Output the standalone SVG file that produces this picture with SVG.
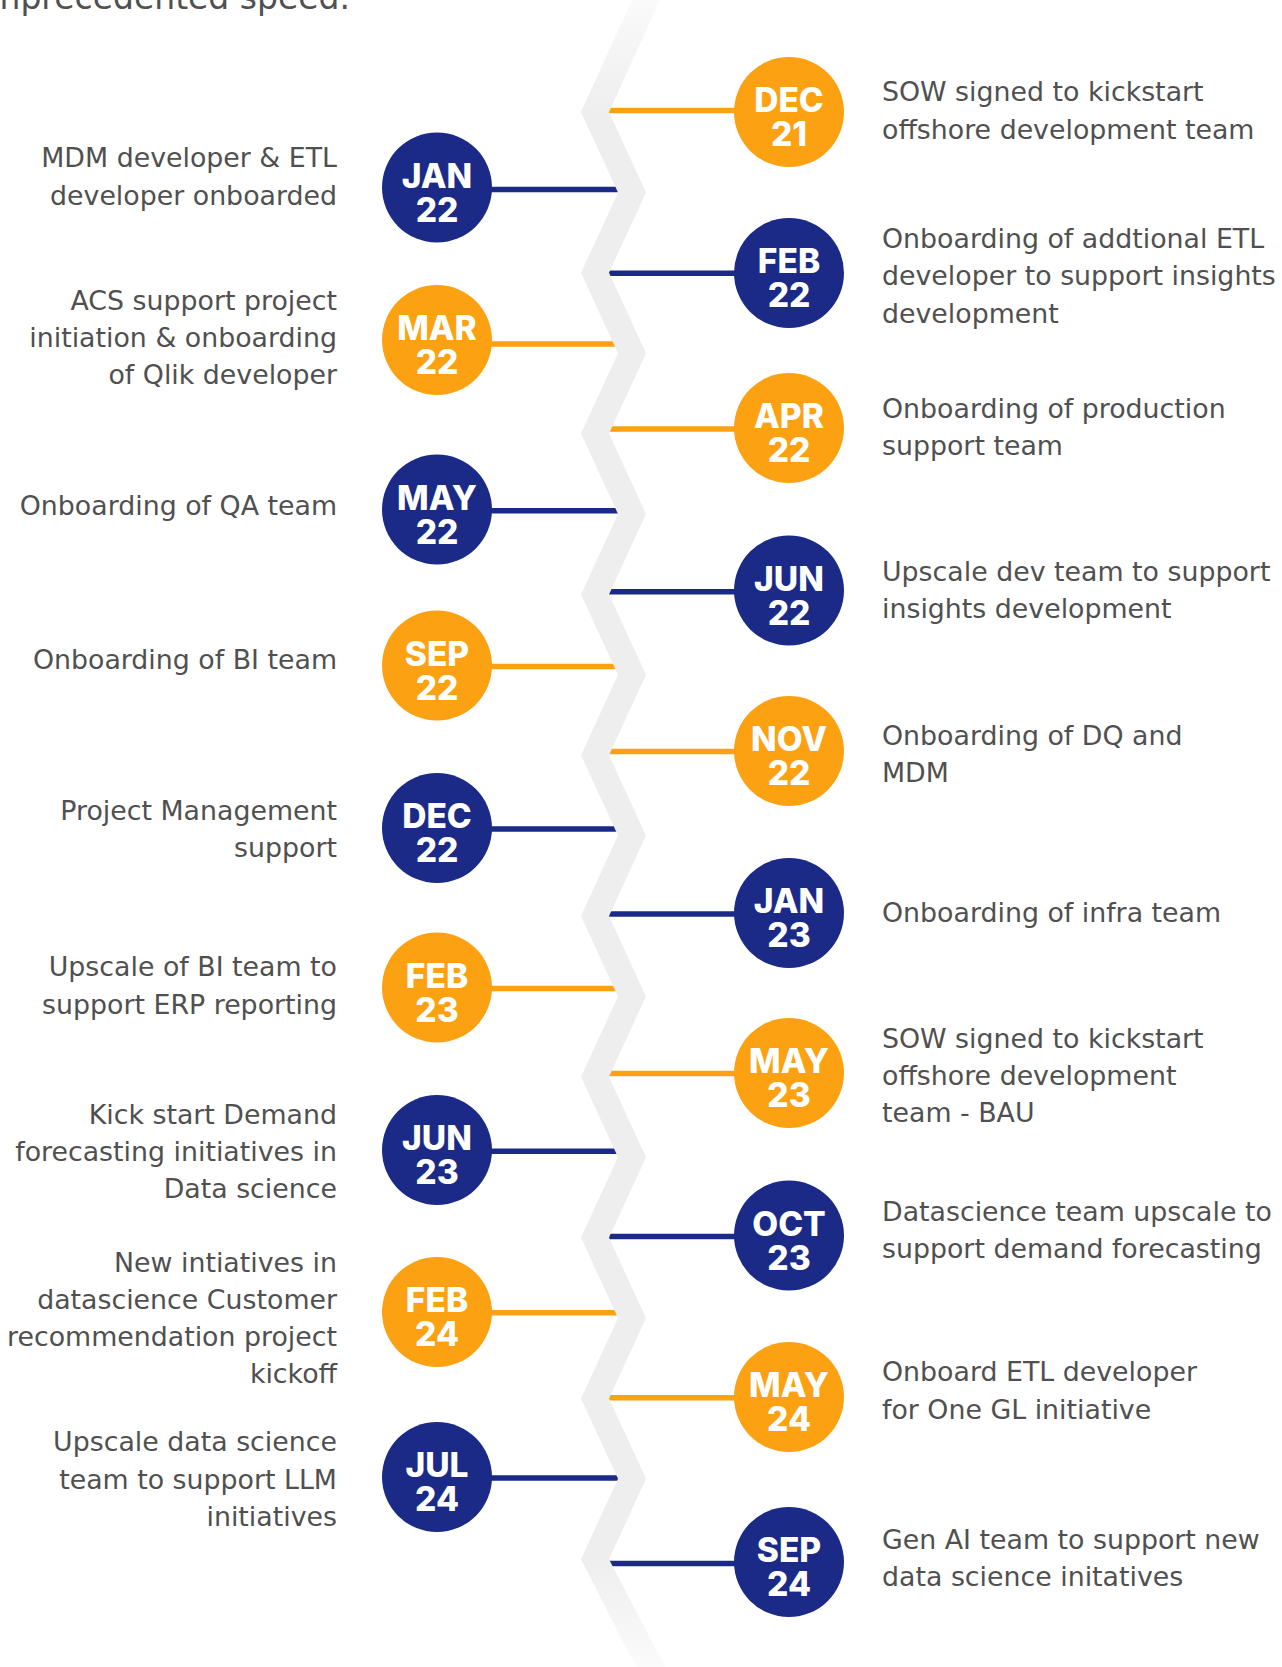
<svg xmlns="http://www.w3.org/2000/svg" width="1282" height="1667" viewBox="0 0 1282 1667">
  <defs>
    <linearGradient id="bandFill" gradientUnits="userSpaceOnUse" x1="0" y1="0" x2="0" y2="1667">
      <stop offset="0" stop-color="#fafafa"/>
      <stop offset="0.07" stop-color="#eeeeee"/>
      <stop offset="0.935" stop-color="#eeeeee"/>
      <stop offset="1" stop-color="#fbfbfb"/>
    </linearGradient>
    <style>
      .desc { font-family: "DejaVu Sans", "Liberation Sans", sans-serif; font-size: 26.8px; fill: #505050; }
      .left { text-anchor: end; }
      .date { font-family: Inter, "Liberation Sans", sans-serif; font-weight: 800; font-size: 33.5px; fill: #ffffff; text-anchor: middle; }
      .orange { fill: #fca112; }
      .navy { fill: #1a2a86; }
      .link { stroke-width: 5.5; fill: none; }
      .link.o { stroke: #fca112; }
      .link.n { stroke: #1a2a86; }
    </style>
  </defs>

  <rect width="1282" height="1667" fill="#ffffff"/>

  <!-- heading tail, clipped by the top edge -->
  <text class="desc" x="350" y="9" style="font-size:33px;text-anchor:end">unprecedented speed.</text>

  <!-- connectors from the spine to each milestone -->
  <g id="connectors">
    <line class="link o" x1="600" y1="110.5" x2="789" y2="110.5"/>
    <line class="link n" x1="437" y1="189.5" x2="640" y2="189.5"/>
    <line class="link n" x1="600" y1="273.3" x2="789" y2="273.3"/>
    <line class="link o" x1="437" y1="344" x2="640" y2="344"/>
    <line class="link o" x1="600" y1="429" x2="789" y2="429"/>
    <line class="link n" x1="437" y1="510.7" x2="640" y2="510.7"/>
    <line class="link n" x1="600" y1="591.7" x2="789" y2="591.7"/>
    <line class="link o" x1="437" y1="666.5" x2="640" y2="666.5"/>
    <line class="link o" x1="600" y1="751.5" x2="789" y2="751.5"/>
    <line class="link n" x1="437" y1="829" x2="640" y2="829"/>
    <line class="link n" x1="600" y1="914" x2="789" y2="914"/>
    <line class="link o" x1="437" y1="988.6" x2="640" y2="988.6"/>
    <line class="link o" x1="600" y1="1073.6" x2="789" y2="1073.6"/>
    <line class="link n" x1="437" y1="1151.2" x2="640" y2="1151.2"/>
    <line class="link n" x1="600" y1="1236.5" x2="789" y2="1236.5"/>
    <line class="link o" x1="437" y1="1312.7" x2="640" y2="1312.7"/>
    <line class="link o" x1="600" y1="1397.8" x2="789" y2="1397.8"/>
    <line class="link n" x1="437" y1="1478" x2="640" y2="1478"/>
    <line class="link n" x1="600" y1="1563.5" x2="789" y2="1563.5"/>
  </g>

  <!-- zigzag spine -->
  <polygon id="spine" fill="url(#bandFill)" points="
    632,0 581,112 618,192.4 581,272.8 618,353.2 581,433.6 618,514 581,594.4 618,674.8 581,755.2
    618,835.6 581,916 618,996.4 581,1076.8 618,1157.2 581,1237.6 618,1318 581,1398.4 618,1478.8 581,1559.2
    636,1667 665,1667
    609,1559.2 646,1478.8 609,1398.4 646,1318 609,1237.6 646,1157.2 609,1076.8 646,996.4 609,916 646,835.6
    609,755.2 646,674.8 609,594.4 646,514 609,433.6 646,353.2 609,272.8 646,192.4 609,112 660,0"/>

  <!-- right-hand milestones -->
  <g id="node-dec21">
    <circle class="orange" cx="789" cy="112" r="55"/>
    <text class="date" x="789" y="112">DEC<tspan x="789" dy="34">21</tspan></text>
    <text class="desc" x="882" y="101.4">SOW signed to kickstart<tspan x="882" dy="37.2">offshore development team</tspan></text>
  </g>
  <g id="node-feb22">
    <circle class="navy" cx="789" cy="273" r="55"/>
    <text class="date" x="789" y="273">FEB<tspan x="789" dy="34">22</tspan></text>
    <text class="desc" x="882" y="248.1">Onboarding of addtional ETL<tspan x="882" dy="37.2">developer to support insights</tspan><tspan x="882" dy="37.2">development</tspan></text>
  </g>
  <g id="node-apr22">
    <circle class="orange" cx="789" cy="428" r="55"/>
    <text class="date" x="789" y="428">APR<tspan x="789" dy="34">22</tspan></text>
    <text class="desc" x="882" y="418.2">Onboarding of production<tspan x="882" dy="37.2">support team</tspan></text>
  </g>
  <g id="node-jun22">
    <circle class="navy" cx="789" cy="590.5" r="55"/>
    <text class="date" x="789" y="590.5">JUN<tspan x="789" dy="34">22</tspan></text>
    <text class="desc" x="882" y="580.8">Upscale dev team to support<tspan x="882" dy="37.2">insights development</tspan></text>
  </g>
  <g id="node-nov22">
    <circle class="orange" cx="789" cy="751" r="55"/>
    <text class="date" x="789" y="751">NOV<tspan x="789" dy="34">22</tspan></text>
    <text class="desc" x="882" y="744.5">Onboarding of DQ and<tspan x="882" dy="37.2">MDM</tspan></text>
  </g>
  <g id="node-jan23">
    <circle class="navy" cx="789" cy="913" r="55"/>
    <text class="date" x="789" y="913">JAN<tspan x="789" dy="34">23</tspan></text>
    <text class="desc" x="882" y="922">Onboarding of infra team</text>
  </g>
  <g id="node-may23">
    <circle class="orange" cx="789" cy="1073" r="55"/>
    <text class="date" x="789" y="1073">MAY<tspan x="789" dy="34">23</tspan></text>
    <text class="desc" x="882" y="1047.5">SOW signed to kickstart<tspan x="882" dy="37.2">offshore development</tspan><tspan x="882" dy="37.2">team - BAU</tspan></text>
  </g>
  <g id="node-oct23">
    <circle class="navy" cx="789" cy="1235.5" r="55"/>
    <text class="date" x="789" y="1235.5">OCT<tspan x="789" dy="34">23</tspan></text>
    <text class="desc" x="882" y="1220.8">Datascience team upscale to<tspan x="882" dy="37.2">support demand forecasting</tspan></text>
  </g>
  <g id="node-may24">
    <circle class="orange" cx="789" cy="1397" r="55"/>
    <text class="date" x="789" y="1397">MAY<tspan x="789" dy="34">24</tspan></text>
    <text class="desc" x="882" y="1381.3">Onboard ETL developer<tspan x="882" dy="37.2">for One GL initiative</tspan></text>
  </g>
  <g id="node-sep24">
    <circle class="navy" cx="789" cy="1562" r="55"/>
    <text class="date" x="789" y="1562">SEP<tspan x="789" dy="34">24</tspan></text>
    <text class="desc" x="882" y="1549.2">Gen AI team to support new<tspan x="882" dy="37.2">data science initatives</tspan></text>
  </g>

  <!-- left-hand milestones -->
  <g id="node-jan22">
    <circle class="navy" cx="437" cy="187.5" r="55"/>
    <text class="date" x="437" y="187.5">JAN<tspan x="437" dy="34">22</tspan></text>
    <text class="desc left" x="337" y="167.3">MDM developer &amp; ETL<tspan x="337" dy="37.2">developer onboarded</tspan></text>
  </g>
  <g id="node-mar22">
    <circle class="orange" cx="437" cy="340" r="55"/>
    <text class="date" x="437" y="340">MAR<tspan x="437" dy="34">22</tspan></text>
    <text class="desc left" x="337" y="309.8">ACS support project<tspan x="337" dy="37.2">initiation &amp; onboarding</tspan><tspan x="337" dy="37.2">of Qlik developer</tspan></text>
  </g>
  <g id="node-may22">
    <circle class="navy" cx="437" cy="509.5" r="55"/>
    <text class="date" x="437" y="509.5">MAY<tspan x="437" dy="34">22</tspan></text>
    <text class="desc left" x="337" y="514.9">Onboarding of QA team</text>
  </g>
  <g id="node-sep22">
    <circle class="orange" cx="437" cy="665.5" r="55"/>
    <text class="date" x="437" y="665.5">SEP<tspan x="437" dy="34">22</tspan></text>
    <text class="desc left" x="337" y="669">Onboarding of BI team</text>
  </g>
  <g id="node-dec22">
    <circle class="navy" cx="437" cy="828" r="55"/>
    <text class="date" x="437" y="828">DEC<tspan x="437" dy="34">22</tspan></text>
    <text class="desc left" x="337" y="820">Project Management<tspan x="337" dy="37.2">support</tspan></text>
  </g>
  <g id="node-feb23">
    <circle class="orange" cx="437" cy="987.5" r="55"/>
    <text class="date" x="437" y="987.5">FEB<tspan x="437" dy="34">23</tspan></text>
    <text class="desc left" x="337" y="976.3">Upscale of BI team to<tspan x="337" dy="37.2">support ERP reporting</tspan></text>
  </g>
  <g id="node-jun23">
    <circle class="navy" cx="437" cy="1150" r="55"/>
    <text class="date" x="437" y="1150">JUN<tspan x="437" dy="34">23</tspan></text>
    <text class="desc left" x="337" y="1124">Kick start Demand<tspan x="337" dy="37.2">forecasting initiatives in</tspan><tspan x="337" dy="37.2">Data science</tspan></text>
  </g>
  <g id="node-feb24">
    <circle class="orange" cx="437" cy="1312" r="55"/>
    <text class="date" x="437" y="1312">FEB<tspan x="437" dy="34">24</tspan></text>
    <text class="desc left" x="337" y="1271.8">New intiatives in<tspan x="337" dy="37.2">datascience Customer</tspan><tspan x="337" dy="37.2">recommendation project</tspan><tspan x="337" dy="37.2">kickoff</tspan></text>
  </g>
  <g id="node-jul24">
    <circle class="navy" cx="437" cy="1477" r="55"/>
    <text class="date" x="437" y="1477">JUL<tspan x="437" dy="34">24</tspan></text>
    <text class="desc left" x="337" y="1451.4">Upscale data science<tspan x="337" dy="37.2">team to support LLM</tspan><tspan x="337" dy="37.2">initiatives</tspan></text>
  </g>
</svg>
